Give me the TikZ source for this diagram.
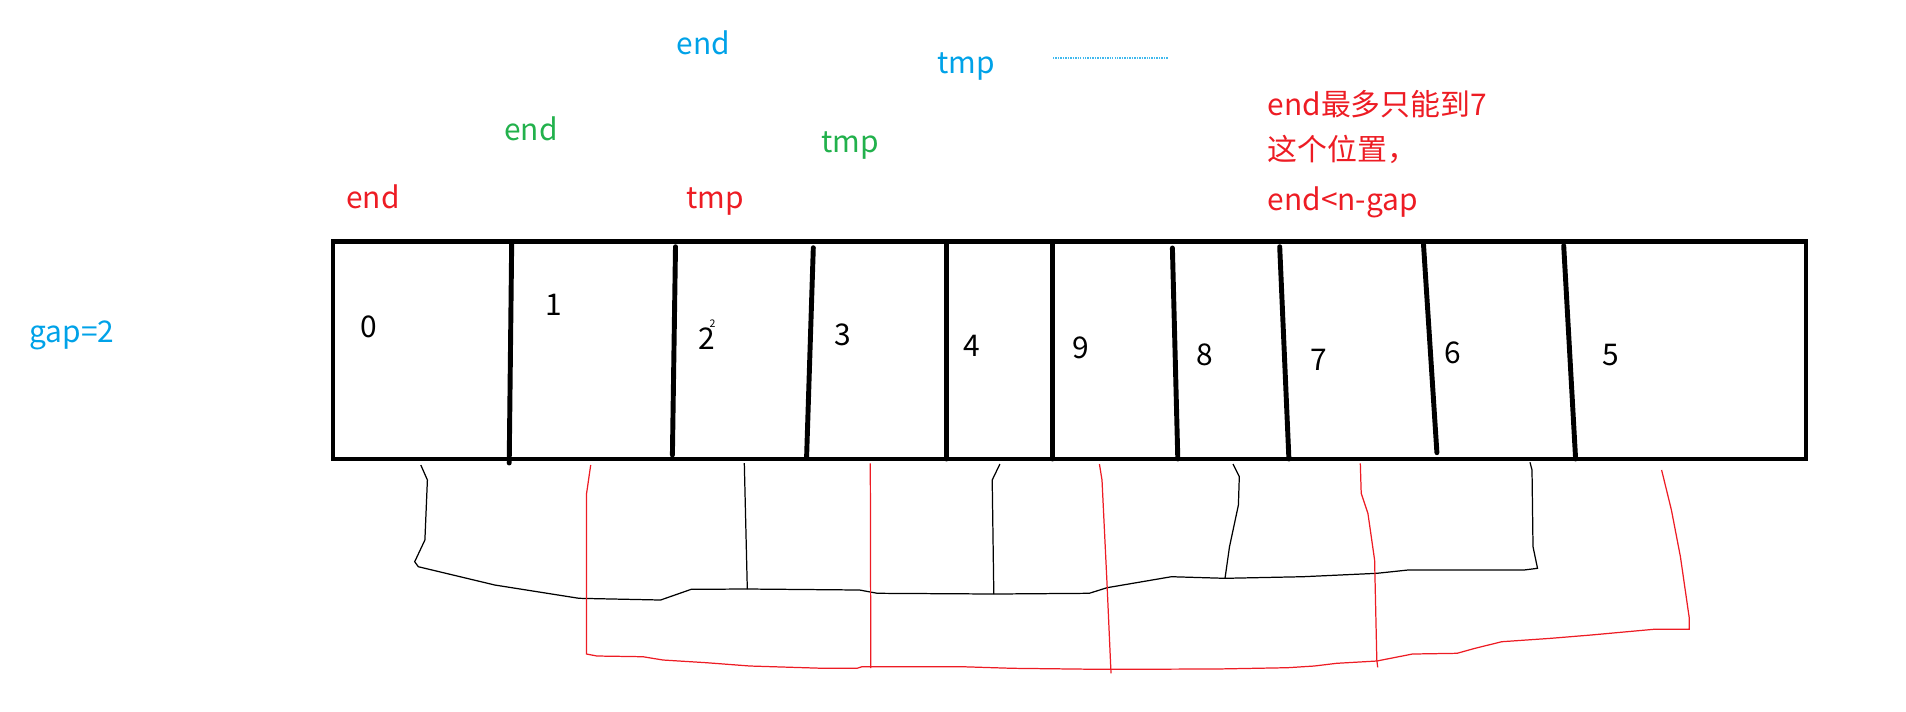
\documentclass[tikz,border=0pt]{standalone}
\usepackage{fontspec}
\setmainfont{Noto Sans CJK SC}
\definecolor{paintred}{HTML}{ED1C24}
\definecolor{paintgreen}{HTML}{22B14C}
\definecolor{paintblue}{HTML}{00A2E8}
\tikzset{
  note/.style={font=\fontsize{8.5pt}{10pt}\selectfont,inner sep=0pt},
  cellnum/.style={font=\fontsize{8.5pt}{10pt}\selectfont,inner sep=0pt,color=black},
  wall/.style={line width=1.4pt,line cap=round},
  link/.style={line width=0.35pt},
}

\begin{document}
\begin{tikzpicture}[x=0.01cm,y=-0.01cm]
        \useasboundingbox (0,0) rectangle (1906,711);
        % the array
        \draw[line width=1.4pt] (333,241.5) rectangle (1806,459);
        \draw[wall] (511.7,241.5) -- (509.2,463);
        \draw[wall] (675.5,246.7) -- (672.4,455);
        \draw[wall] (813.3,247.7) -- (806.6,457);
        \draw[wall] (946.4,241.5) -- (946.4,459);
        \draw[wall] (1052.6,241.5) -- (1052.6,459);
        \draw[wall] (1172.4,248) -- (1177.8,459);
        \draw[wall] (1279.7,246.7) -- (1288.9,459);
        \draw[wall] (1423.3,241.5) -- (1436.9,452.7);
        \draw[wall] (1563.7,245.7) -- (1575.6,459);
        \node[cellnum] (n0) at (368.9,327.3) {0};
        \node[cellnum] (n1) at (553.6,305) {1};
        \node[cellnum] (n2) at (706.6,338.3) {2};
        \node[cellnum,font=\fontsize{3pt}{4pt}\selectfont] (n2b) at (712.5,324) {2};
        \node[cellnum] (n3) at (842.3,335) {3};
        \node[cellnum] (n4) at (971.4,346) {4};
        \node[cellnum] (n9) at (1081,347.7) {9};
        \node[cellnum] (n8) at (1204.3,355) {8};
        \node[cellnum] (n7) at (1318.7,360) {7};
        \node[cellnum] (n6) at (1453.1,352.7) {6};
        \node[cellnum] (n5) at (1610.8,355) {5};
        % pointers, step by step
        \node[note,color=paintred] (endA) at (373,197) {end};
        \node[note,color=paintred] (tmpA) at (715,202) {tmp};
        \node[note,color=paintgreen] (endB) at (531,129) {end};
        \node[note,color=paintgreen] (tmpB) at (850,145.5) {tmp};
        \node[note,color=paintblue] (endC) at (703.5,42.8) {end};
        \node[note,color=paintblue] (tmpC) at (966,67) {tmp};
        \draw[paintblue!75,line width=0.45pt,dash pattern=on 0.4pt off 0.3pt] (1053,57.7) -- (1168,57.7);
        \node[note,color=paintblue] (gap) at (72,335.5) {gap=2};
        \node[note,color=paintred,anchor=west] (limA) at (1267,104) {end最多只能到7};
        \node[note,color=paintred,anchor=west] (limB) at (1267,149.5) {这个位置，};
        \node[note,color=paintred,anchor=west] (limC) at (1267,202) {end<n-gap};
        % group 0 2 4 8 6
        \draw[link] (420.8,465) -- (427.4,480) -- (424.9,540) -- (414.7,561.7) -- (418.3,566.7)
          -- (494.8,585) -- (579,598.3) -- (660.6,600) -- (691.2,589.3) -- (747.3,589)
          -- (859.6,590) -- (877.4,593.3) -- (994.8,594) -- (1089.2,593.3) -- (1107,587.7)
          -- (1171.4,576.7) -- (1225,578.3) -- (1303,576.7) -- (1376.8,573.3) -- (1408,570)
          -- (1524,570) -- (1537.5,568.3) -- (1533,546.7) -- (1532,470) -- (1530,462.3);
        \draw[link] (744.3,463) -- (747.3,589);
        \draw[link] (999.9,464) -- (992.2,480) -- (993.8,594);
        \draw[link] (1233,464) -- (1239.3,476.7) -- (1238.4,505) -- (1229.5,546.7) -- (1225,578.3);
        % group 1 3 9 7 5
        \draw[link,paintred] (590.7,465) -- (586.6,493.3) -- (586.6,654) -- (596.8,656)
          -- (642.8,656.7) -- (663,660) -- (706.5,662.7) -- (749.9,666) -- (823.9,668.3)
          -- (857,668.3) -- (862,666.7) -- (961.6,666.7) -- (1012.7,668.3) -- (1099.4,669.3)
          -- (1216,669) -- (1287.5,667.7) -- (1314.3,666) -- (1336.6,663.3) -- (1376.8,661)
          -- (1412.5,654) -- (1457,653.3) -- (1475,648.3) -- (1501.8,641.7) -- (1550.9,638.3)
          -- (1591,635) -- (1653.6,629.3) -- (1689.3,629.3) -- (1689.3,618.3) -- (1680.4,556.7)
          -- (1671.4,510) -- (1661.6,470);
        \draw[link,paintred] (870.3,463.3) -- (870.8,668);
        \draw[link,paintred] (1099.4,464) -- (1102,480) -- (1107,583.3) -- (1111,673.3);
        \draw[link,paintred] (1360.3,463.3) -- (1361.2,493.3) -- (1367.9,513.3) -- (1374.6,560)
          -- (1376.8,660) -- (1377.7,667.3);
\end{tikzpicture}
\end{document}
